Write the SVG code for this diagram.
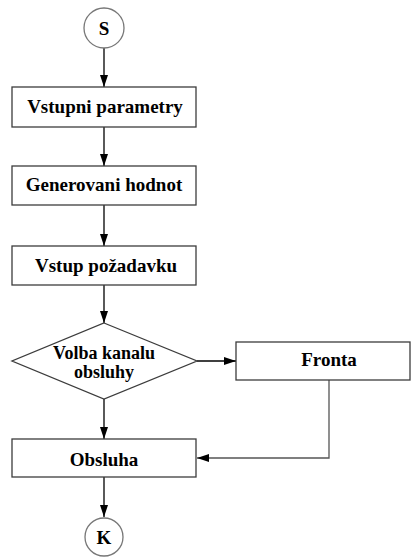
<svg xmlns="http://www.w3.org/2000/svg" width="412" height="557" viewBox="0 0 412 557">
  <defs>
    <marker id="arrow" viewBox="0 0 12 8" refX="12" refY="4" markerWidth="12" markerHeight="8" markerUnits="userSpaceOnUse" orient="auto">
      <path d="M0,0 L12,4 L0,8 Z" fill="#000"/>
    </marker>
    <style>
      .box { fill: #fff; stroke: #3c3c3c; stroke-width: 1.3; }
      .term { fill: #fff; stroke: #777; stroke-width: 1.3; }
      .lbl { font-family: "Liberation Serif", "Times New Roman", serif; font-weight: bold; font-size: 19px; fill: #000; text-anchor: middle; }
      .conn { fill: none; stroke: #000; stroke-width: 1.3; marker-end: url(#arrow); }
      .conn-grey { fill: none; stroke: #555; stroke-width: 1.3; marker-end: url(#arrow); }
    </style>
  </defs>

  <!-- connectors -->
  <g id="connectors">
    <line class="conn" x1="104" y1="48" x2="104" y2="87"/>
    <line class="conn" x1="104" y1="127" x2="104" y2="166"/>
    <line class="conn" x1="104" y1="205" x2="104" y2="246"/>
    <line class="conn" x1="104" y1="285" x2="104" y2="323"/>
    <line class="conn" x1="197" y1="361" x2="236" y2="361"/>
    <line class="conn" x1="104" y1="399" x2="104" y2="439"/>
    <polyline class="conn-grey" points="329,380 329,458 197,458"/>
    <line class="conn" x1="104" y1="477" x2="104" y2="517"/>
  </g>

  <g id="start">
    <circle class="term" cx="104" cy="28" r="20"/>
    <text class="lbl" x="104" y="35">S</text>
  </g>

  <g id="vstupni-parametry">
    <rect class="box" x="12" y="87" width="184" height="40"/>
    <text class="lbl" x="105" y="113">Vstupni parametry</text>
  </g>

  <g id="generovani-hodnot">
    <rect class="box" x="12" y="166" width="184" height="39"/>
    <text class="lbl" x="104" y="191">Generovani hodnot</text>
  </g>

  <g id="vstup-pozadavku">
    <rect class="box" x="12" y="246" width="184" height="39"/>
    <text class="lbl" x="106" y="272">Vstup požadavku</text>
  </g>

  <g id="volba-kanalu">
    <polygon class="box" points="104,323 197,361 104,399 12,361"/>
    <text class="lbl" x="104" y="359" style="font-size:18px">Volba kanalu</text>
    <text class="lbl" x="104" y="378" style="font-size:18px">obsluhy</text>
  </g>

  <g id="fronta">
    <rect class="box" x="236" y="342" width="174" height="38"/>
    <text class="lbl" x="329" y="366">Fronta</text>
  </g>

  <g id="obsluha">
    <rect class="box" x="12" y="439" width="184" height="38"/>
    <text class="lbl" x="104" y="466">Obsluha</text>
  </g>

  <g id="end">
    <circle class="term" cx="104" cy="537" r="19"/>
    <text class="lbl" x="104" y="544">K</text>
  </g>
</svg>
